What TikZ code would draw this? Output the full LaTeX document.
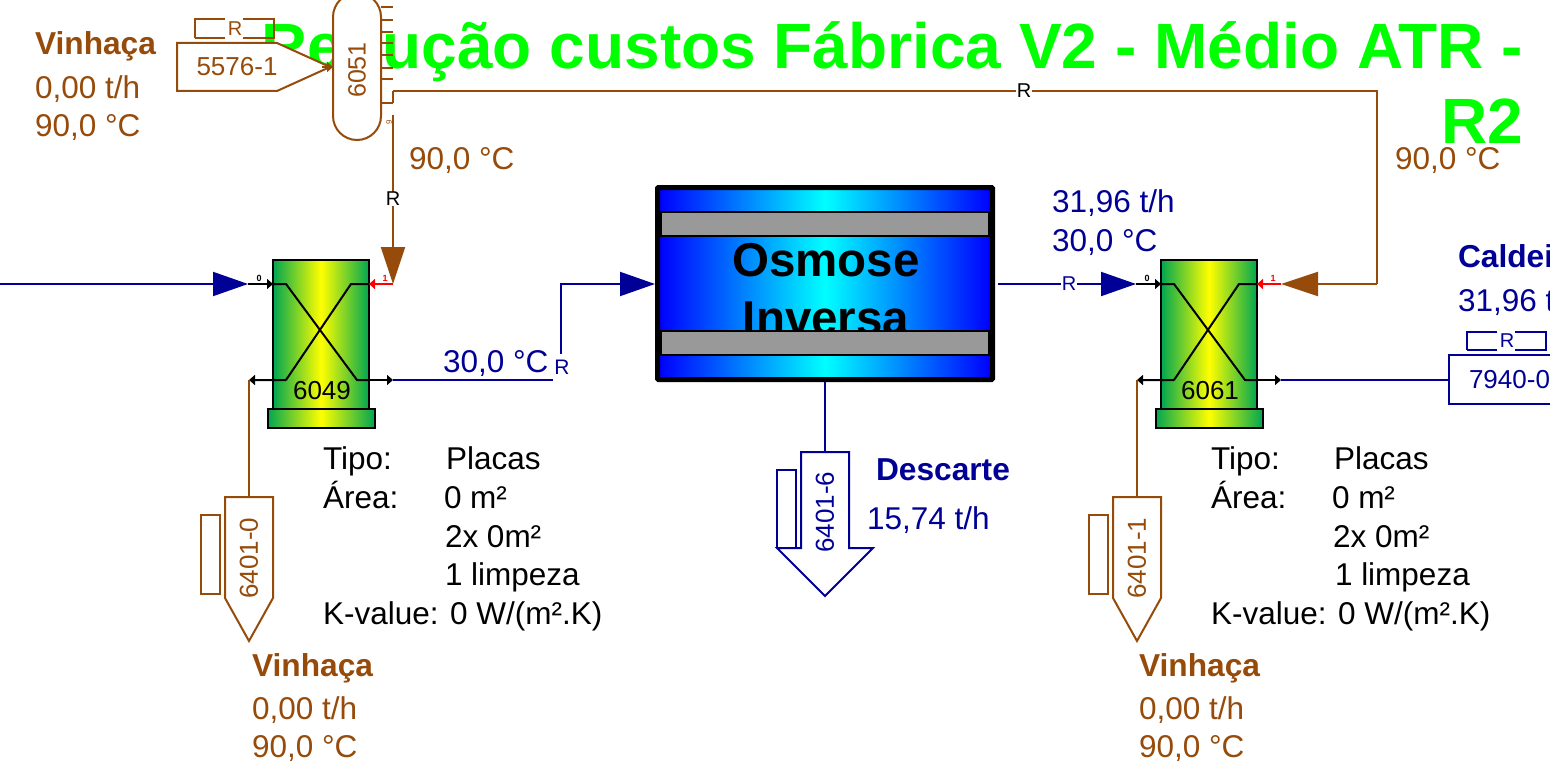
\documentclass[tikz,border=0pt]{standalone}
\usepackage{fontspec}
\setmainfont{Liberation Sans}
\usetikzlibrary{arrows.meta}
\definecolor{steam}{RGB}{150,75,10}
\definecolor{water}{RGB}{0,0,150}
\definecolor{titlegreen}{RGB}{0,255,0}
\definecolor{hxgreen}{RGB}{0,166,81}
\definecolor{ropump}{RGB}{0,0,255}
\definecolor{rogray}{RGB}{153,153,153}
\newcommand{\sz}[1]{\fontsize{#1}{#1}\selectfont}

\begin{document}
\begin{tikzpicture}[x=1pt,y=-1pt]
\tikzstyle{every node}=[inner sep=0pt,outer sep=0pt]
\tikzstyle{txt}=[anchor=base west,yshift=-11.5pt,font=\sz{31.5}]
\tikzstyle{head}=[anchor=base west,yshift=-11.5pt,font=\sz{31.7}\bfseries]
\tikzstyle{tag}=[font=\sz{26},rotate=90]
\tikzstyle{rmark}=[font=\sz{20},fill=white,inner xsep=1pt]
\tikzstyle{steamline}=[draw=steam,line width=2pt]
\tikzstyle{waterline}=[draw=water,line width=2pt]
\tikzstyle{bigsteam}=[steamline,-{Triangle[length=37pt,width=24pt,fill=steam]}]
\tikzstyle{bigwater}=[waterline,-{Triangle[length=35pt,width=24pt,fill=water]}]
\tikzstyle{hxline}=[draw=black,line width=2pt]
\tikzstyle{hxtip}=[-{Triangle[length=6pt,width=10pt]}]
\tikzstyle{redtip}=[draw=red,line width=2pt,-{Triangle[length=6pt,width=10pt]}]
\tikzstyle{hxbody}=[draw=black,line width=2pt,left color=hxgreen,right color=hxgreen,middle color=yellow,minimum width=96pt,minimum height=149pt]
\tikzstyle{hxbase}=[hxbody,minimum width=107pt,minimum height=19pt]
\tikzstyle{roband}=[left color=ropump,right color=ropump,middle color=cyan]
\tikzstyle{rowall}=[fill=rogray,draw=black,line width=1.5pt,minimum width=328pt,minimum height=24pt]
\useasboundingbox (0,0) rectangle (1550,773);
\clip (0,0) rectangle (1550,773);
\fill[white] (0,0) rectangle (1550,773);

\node[anchor=north east,align=right,text=titlegreen,font=\sz{64}\bfseries] (title) at (1523,22) {Redução custos Fábrica V2 - Médio ATR -\\[11pt]R2};

\node[txt,text=steam] (t90b) at (1395,158) {90,0 °C};

\draw[steamline,fill=white] (333,116) arc (180:0:24) -- (381,17) arc (0:-180:24) -- cycle;
\node[tag,font=\sz{25},text=steam] (v6051) at (357,70) {6051};
\foreach \yy in {7,20,32,43,55,68,79,103} \draw[steamline] (381,\yy) -- (393,\yy);
\draw[steamline] (393,91) -- (393,103);
\node[font=\sz{8},text=steam,rotate=90] (n9) at (389,122) {9};

\draw[steamline] (195,38) -- (195,19) -- (225,19) (243,19) -- (274,19) -- (274,38) -- (243,38) (225,38) -- (195,38);
\node[font=\sz{20},text=steam] (r1) at (235,29) {R};
\draw[steamline,fill=white] (177,43) -- (277,43) -- (330,67) -- (277,91) -- (177,91) -- cycle;
\node[font=\sz{26},text=steam] (b5576) at (237,67) {5576-1};
\coordinate (in6051) at (333,67);
\draw[steamline,-{Triangle[length=6pt,width=10pt,fill=steam]}] (322,67) -- (in6051);

\node[head,text=steam] (v1) at (35,43) {Vinhaça};
\node[txt,text=steam] (v1a) at (35,87) {0,00 t/h};
\node[txt,text=steam] (v1b) at (35,125) {90,0 °C};
\node[txt,text=steam] (t90a) at (409,158) {90,0 °C};

\node[hxbody] (hxa) at (321,334.5) {};
\node[hxbase] (hxab) at (321,418.5) {};
\node[hxbody] (hxb) at (1209,334.5) {};
\node[hxbase] (hxbb) at (1209,418.5) {};
\node[font=\sz{26}] (na) at (322,391) {6049};
\node[font=\sz{26}] (nb) at (1210,391) {6061};

\coordinate (a0) at (248,284);
\coordinate (a1) at (393,284);
\coordinate (a2) at (249,380);
\coordinate (a3) at (393,380);
\coordinate (b0) at (1136,284);
\coordinate (b1) at (1281,284);
\coordinate (b2) at (1137,380);
\coordinate (b3) at (1281,380);

\draw[hxline] (273,284) -- (286,284) -- (357,380) -- (370,380);
\draw[hxline,hxtip] (370,380) -- (a3);
\draw[hxline,hxtip] (286,380) -- (351,284) -- (369,284) (286,380) -- (a2);
\draw[hxline,hxtip] (a0) -- (hxa.west |- a0);
\draw[redtip] (a1) -- (hxa.east |- a1);
\draw[hxline] (1161,284) -- (1174,284) -- (1245,380) -- (1258,380);
\draw[hxline,hxtip] (1258,380) -- (b3);
\draw[hxline,hxtip] (1174,380) -- (1239,284) -- (1257,284) (1174,380) -- (b2);
\draw[hxline,hxtip] (b0) -- (hxb.west |- b0);
\draw[redtip] (b1) -- (hxb.east |- b1);
\node[font=\sz{9}\bfseries] (la0) at (259,278) {0};
\node[font=\sz{9}\bfseries,text=red] (la1) at (385,278) {1};
\node[font=\sz{9}\bfseries] (lb0) at (1147,278) {0};
\node[font=\sz{9}\bfseries,text=red] (lb1) at (1273,278) {1};

\node[roband,minimum width=331pt,minimum height=190pt] (ro) at (825,283.5) {};
\node[font=\sz{47.5}\bfseries] (os1) at (826,260) {Osmose};
\node[font=\sz{47.5}\bfseries] (os2) at (826,318) {Inversa};
\node[rowall] (wa) at (825,224) {};
\node[rowall] (wb) at (825,343) {};
\draw[line width=5pt,rounded corners=1pt] (657.5,187.5) rectangle (992.5,379.5);

\coordinate (west) at (-5,284);
\draw[bigwater] (west) -- (a0);
\coordinate (ra) at (553,380);
\coordinate (rb) at (561,354);
\draw[waterline] (a3) -- (ra);
\node[font=\sz{21},text=water] (rr) at (562,367) {R};
\draw[bigwater] (rb) -- (561,284) -- (655,284);
\coordinate (ro1) at (998,284);
\draw[bigwater] (ro1) -- (b0);
\node[rmark,text=water] (rr2) at (1069,284) {R};
\draw[bigsteam] (393,115) -- (a1);
\node[rmark] (rr3) at (393,199) {R};
\draw[steamline] (393,91) -- (1377,91) -- (1377,284);
\draw[bigsteam] (1377,284) -- (b1);
\node[rmark] (rr4) at (1024,91) {R};

\draw[waterline] (b3) -- (1449,380);
\draw[waterline] (1467,350) -- (1467,332) -- (1497,332) (1515,332) -- (1546,332) -- (1546,350) -- (1515,350) (1497,350) -- (1467,350);
\node[font=\sz{20},text=water] (r5) at (1507,341) {R};
\draw[waterline,fill=white] (1449,355) -- (1590,355) -- (1590,404) -- (1449,404) -- cycle;
\node[font=\sz{26},anchor=west,text=water] (b7940) at (1469,380) {7940-0};
\node[head,text=water] (cal) at (1458,256) {Caldei};
\node[txt,text=water] (cala) at (1458,300) {31,96 t};

\node[txt,text=water] (t1) at (1052,201) {31,96 t/h};
\node[txt,text=water] (t2) at (1052,240) {30,0 °C};
\node[txt,text=water] (t3) at (443,361) {30,0 °C};

\draw[steamline] (a2) -- (249,497);
\draw[steamline] (225,497) -- (273,497) -- (273,598) -- (249,641) -- (225,598) -- cycle;
\draw[steamline] (201,515) rectangle (220,594);
\node[tag,text=steam] (s0) at (249,558) {6401-0};
\draw[steamline] (b2) -- (1137,497);
\draw[steamline] (1113,497) -- (1161,497) -- (1161,598) -- (1137,641) -- (1113,598) -- cycle;
\draw[steamline] (1089,515) rectangle (1108,594);
\node[tag,text=steam] (s1) at (1137,558) {6401-1};

\coordinate (drain) at (825,382);
\draw[waterline] (drain) -- (825,452);
\draw[waterline] (801,452) -- (849,452) -- (849,548) -- (873,548) -- (825,596) -- (777,548) -- (801,548) -- cycle;
\draw[waterline] (777,470) rectangle (796,548);
\node[tag,text=water] (s6) at (825,512) {6401-6};
\node[head,text=water] (des) at (876,469) {Descarte};
\node[txt,text=water] (dest) at (867,518) {15,74 t/h};

\node[txt] (ta) at (323,458) {Tipo:};
\node[txt] (tb) at (446,458) {Placas};
\node[txt] (tc) at (323,497) {Área:};
\node[txt] (td) at (444,497) {0 m²};
\node[txt] (te) at (445,536) {2x 0m²};
\node[txt] (tf) at (445,574) {1 limpeza};
\node[txt] (tg) at (323,613) {K-value: 0 W/(m².K)};
\node[txt] (ua) at (1211,458) {Tipo:};
\node[txt] (ub) at (1334,458) {Placas};
\node[txt] (uc) at (1211,497) {Área:};
\node[txt] (ud) at (1332,497) {0 m²};
\node[txt] (ue) at (1333,536) {2x 0m²};
\node[txt] (uf) at (1335,574) {1 limpeza};
\node[txt] (ug) at (1211,613) {K-value: 0 W/(m².K)};

\node[head,text=steam] (v2) at (252,665) {Vinhaça};
\node[txt,text=steam] (v2a) at (252,708) {0,00 t/h};
\node[txt,text=steam] (v2b) at (252,746) {90,0 °C};
\node[head,text=steam] (v3) at (1139,665) {Vinhaça};
\node[txt,text=steam] (v3a) at (1139,708) {0,00 t/h};
\node[txt,text=steam] (v3b) at (1139,746) {90,0 °C};
\end{tikzpicture}
\end{document}
